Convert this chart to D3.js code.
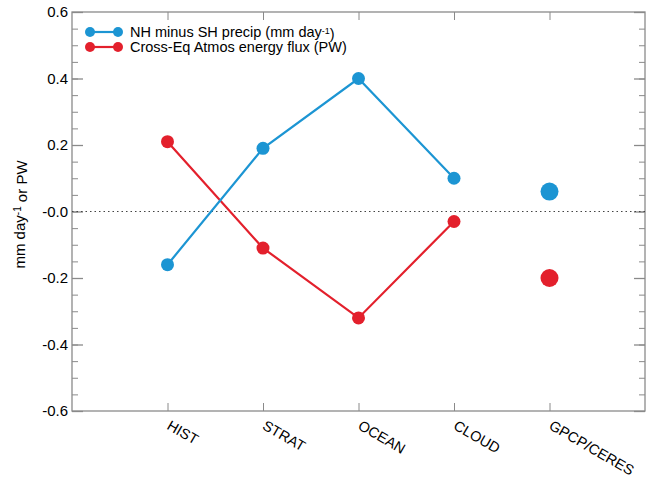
<!DOCTYPE html>
<html>
<head>
<meta charset="utf-8">
<script src="https://cdn.jsdelivr.net/npm/d3@7"></script>
<style>
  body { margin: 0; background: #fff; }
  text { font-family: "Liberation Sans", Arial, sans-serif; fill: #000; }
</style>
</head>
<body>
<script>
var width = 654;
var height = 480;

// data
var categories = ["HIST", "STRAT", "OCEAN", "CLOUD", "GPCP/CERES"];
var precipModels = [-0.16, 0.19, 0.40, 0.10];
var fluxModels = [0.21, -0.11, -0.32, -0.03];
var precipObs = 0.06;
var fluxObs = -0.20;
var yTicks = [-0.6, -0.4, -0.2, 0.0, 0.2, 0.4, 0.6];
var yTickLabels = ["-0.6", "-0.4", "-0.2", "-0.0", "0.2", "0.4", "0.6"];
var seriesNames = ["NH minus SH precip (mm day", "Cross-Eq Atmos energy flux (PW)"];

var blue = "#1c95d3";
var red = "#e3202c";
var axisCol = "#8a8a8a";

// plot box (window.top is reserved, so use other names)
var plotL = 72, plotR = 645, plotT = 12, plotB = 411;

var svg = d3.select("body").append("svg")
  .attr("width", width).attr("height", height);

var x = d3.scaleLinear().domain([0, 6]).range([plotL, plotR]);
var y = d3.scaleLinear().domain([-0.6, 0.6]).range([plotB, plotT]);

var minor = d3.range(-0.6, 0.6001, 0.05).map(function (d) { return Math.round(d * 100) / 100; });
var catPos = categories.map(function (c, i) { return i + 1; });

function styleTicks(g, w) {
  g.select(".domain").remove();
  g.selectAll("line").attr("stroke", axisCol).attr("stroke-width", w);
}

// left axis: inward ticks
svg.append("g").attr("transform", "translate(" + plotL + ",0)")
  .call(d3.axisRight(y).tickValues(minor).tickSize(6).tickFormat(""))
  .call(styleTicks, 1);
svg.append("g").attr("transform", "translate(" + plotL + ",0)")
  .call(d3.axisRight(y).tickValues(yTicks).tickSize(11).tickFormat(""))
  .call(styleTicks, 1.3);

// right axis: inward ticks
svg.append("g").attr("transform", "translate(" + plotR + ",0)")
  .call(d3.axisLeft(y).tickValues(minor).tickSize(6).tickFormat(""))
  .call(styleTicks, 1);
svg.append("g").attr("transform", "translate(" + plotR + ",0)")
  .call(d3.axisLeft(y).tickValues(yTicks).tickSize(11).tickFormat(""))
  .call(styleTicks, 1.3);

// y tick labels
svg.append("g").selectAll("text").data(yTicks).enter().append("text")
  .attr("x", plotL - 4).attr("y", function (d) { return y(d); })
  .attr("dy", "0.36em").attr("text-anchor", "end")
  .style("font-size", "15px")
  .text(function (d, i) { return yTickLabels[i]; });

// bottom and top ticks at categories
svg.append("g").attr("transform", "translate(0," + plotB + ")")
  .call(d3.axisTop(x).tickValues(catPos).tickSize(8).tickFormat(""))
  .call(styleTicks, 1);
svg.append("g").attr("transform", "translate(0," + plotT + ")")
  .call(d3.axisBottom(x).tickValues(catPos).tickSize(8).tickFormat(""))
  .call(styleTicks, 1);

// frame
svg.append("rect").attr("x", plotL).attr("y", plotT)
  .attr("width", plotR - plotL).attr("height", plotB - plotT)
  .attr("fill", "none").attr("stroke", axisCol).attr("stroke-width", 1.3);

// category labels, rotated
svg.append("g").selectAll("text").data(categories).enter().append("text")
  .attr("transform", function (d, i) { return "translate(" + (x(i + 1) + 1) + "," + (plotB + 13) + ") rotate(30)"; })
  .attr("dy", "0.35em")
  .style("font-size", "14.5px")
  .text(function (d) { return d; });

// zero line
svg.append("line")
  .attr("x1", plotL).attr("x2", plotR).attr("y1", y(0)).attr("y2", y(0))
  .attr("stroke", "#444").attr("stroke-width", 1.2).attr("stroke-dasharray", "1.5,3");

// y axis title
var yt = svg.append("text")
  .attr("transform", "translate(25," + (y(0) + 3) + ") rotate(-90)")
  .attr("text-anchor", "middle")
  .style("font-size", "15px");
yt.append("tspan").text("mm day");
yt.append("tspan").attr("dy", "-0.45em").style("font-size", "10px").text("-1");
yt.append("tspan").attr("dy", "0.45em").text(" or PW");

// series
var line = d3.line()
  .x(function (d, i) { return x(i + 1); })
  .y(function (d) { return y(d); });

function drawSeries(vals, obs, col) {
  svg.append("path").datum(vals)
    .attr("d", line).attr("fill", "none")
    .attr("stroke", col).attr("stroke-width", 2.2);
  svg.append("g").selectAll("circle").data(vals).enter().append("circle")
    .attr("cx", function (d, i) { return x(i + 1); })
    .attr("cy", function (d) { return y(d); })
    .attr("r", 6.5).attr("fill", col);
  svg.append("circle")
    .attr("cx", x(5)).attr("cy", y(obs))
    .attr("r", 9).attr("fill", col);
}
drawSeries(fluxModels, fluxObs, red);
drawSeries(precipModels, precipObs, blue);

// legend
var legend = svg.append("g");
var legCols = [blue, red];
var legY = [32, 47];
legCols.forEach(function (col, i) {
  legend.append("line").attr("x1", 90).attr("x2", 118)
    .attr("y1", legY[i]).attr("y2", legY[i])
    .attr("stroke", col).attr("stroke-width", 2.2);
  legend.append("circle").attr("cx", 90).attr("cy", legY[i]).attr("r", 5).attr("fill", col);
  legend.append("circle").attr("cx", 118).attr("cy", legY[i]).attr("r", 5).attr("fill", col);
  var t = legend.append("text").attr("x", 130).attr("y", legY[i]).attr("dy", "0.36em")
    .style("font-size", "14.5px").text(seriesNames[i]);
  if (i === 0) {
    t.append("tspan").attr("dy", "-0.4em").style("font-size", "9px").text("-1");
    t.append("tspan").attr("dy", "0.4em").text(")");
  }
});
</script>
</body>
</html>
